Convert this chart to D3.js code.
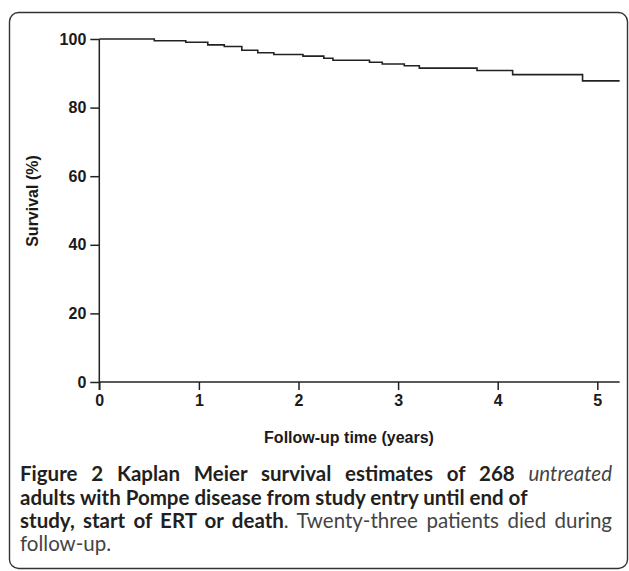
<!DOCTYPE html>
<html><head><meta charset="utf-8">
<script src="https://cdn.jsdelivr.net/npm/d3@7"></script>
<style>body{margin:0;background:#fff}svg{display:block}</style>
</head><body>
<svg id="c" width="629" height="571"></svg>
<script>
// Kaplan-Meier step data (time in years, survival %)
const times = [0, 0.552, 0.868, 1.089, 1.255, 1.431, 1.591, 1.752, 2.045, 2.254, 2.346, 2.713, 2.841, 3.062, 3.213, 3.792, 4.150, 4.852];
const survival = [100, 99.5, 99.07, 98.3, 97.8, 96.7, 96.0, 95.5, 95.0, 94.4, 93.8, 93.2, 92.7, 92.2, 91.5, 90.8, 89.6, 87.8];
const endTime = 5.224;
const xTicks = [0, 1, 2, 3, 4, 5];
const yTicks = [0, 20, 40, 60, 80, 100];
const xTitle = "Follow-up time (years)";
const yTitle = "Survival (%)";

const svg = d3.select("#c");
svg.append("rect").attr("x", 9.5).attr("y", 12.5).attr("width", 618).attr("height", 556)
  .attr("rx", 9).attr("fill", "none").attr("stroke", "#333").attr("stroke-width", 1.4);

const x = d3.scaleLinear().domain([0, 5]).range([99.3, 597.3]);
const y = d3.scaleLinear().domain([0, 100]).range([382, 39]);

const axisFont = "'Liberation Sans', Arial, sans-serif";
const axisSize = "16px";
// y axis
const gy = svg.append("g").attr("transform", `translate(${x(0)},0)`)
  .call(d3.axisLeft(y).tickValues(yTicks).tickFormat(d3.format("d")).tickSize(9).tickPadding(4).tickSizeOuter(0));
gy.select(".domain").remove();
gy.append("line").attr("x1", 0).attr("x2", 0).attr("y1", y(100)).attr("y2", y(0) + 8)
  .attr("stroke", "#222").attr("stroke-width", 1.5);
// x axis
const gx = svg.append("g").attr("transform", `translate(0,${y(0)})`)
  .call(d3.axisBottom(x).tickValues(xTicks).tickFormat(d3.format("d")).tickSize(8).tickPadding(5));
gx.select(".domain").remove();
gx.append("line").attr("x1", x(0)).attr("x2", x(endTime)).attr("y1", 0).attr("y2", 0)
  .attr("stroke", "#222").attr("stroke-width", 1.5);
[gx, gy].forEach(g => {
  g.attr("font-size", null).attr("font-family", null);
  g.selectAll(".tick line").attr("stroke", "#222").attr("stroke-width", 1.5);
  g.selectAll(".tick text").attr("fill", "#1a1a1a").style("font-family", axisFont)
    .style("font-weight", "bold").style("font-size", axisSize);
});

svg.append("text").attr("x", 349).attr("y", 443).attr("text-anchor", "middle")
  .style("font-family", axisFont).style("font-weight", "bold").style("font-size", axisSize)
  .attr("fill", "#1a1a1a").text(xTitle);
svg.append("text").attr("transform", `translate(38,${201}) rotate(-90)`).attr("text-anchor", "middle")
  .style("font-family", axisFont).style("font-weight", "bold").style("font-size", axisSize)
  .attr("fill", "#1a1a1a").text(yTitle);

// step curve
const pts = times.map((t, i) => [t, survival[i]]);
pts.push([endTime, survival[survival.length - 1]]);
const line = d3.line().x(d => x(d[0])).y(d => y(d[1])).curve(d3.curveStepAfter);
svg.append("path").datum(pts).attr("d", line).attr("fill", "none")
  .attr("stroke", "#222").attr("stroke-width", 1.6);

// caption (justified lines 1 and 3)
const capFont = "Lato, 'Open Sans', sans-serif";
const cap = [
  [["Figure 2 Kaplan Meier survival estimates of 268 ", "b"], ["untreated", "i"]],
  [["adults with Pompe disease from study entry until end of", "b"]],
  [["study, start of ERT or death", "b"], [". Twenty-three patients died during", "n"]],
  [["follow-up.", "n"]]
];
const justify = [true, false, true, false];
const baselines = [481, 504.5, 528, 551];
const left = 20, right = 612;
const texts = cap.map((segs, i) => {
  const t = svg.append("text").attr("x", left).attr("y", baselines[i])
    .style("font-family", capFont).style("font-size", "16px");
  segs.forEach(([s, k]) => {
    t.append("tspan").text(s)
      .style("font-weight", k === "b" ? "bold" : "normal")
      .style("font-style", k === "i" ? "italic" : "normal")
      .attr("fill", k === "b" ? "#231f20" : "#444");
  });
  return t;
});
// size so that line 2 (unjustified) matches its width in the figure
const w2 = texts[1].node().getComputedTextLength();
const fs = Math.min(20.5, 16 * 510 / w2);
texts.forEach(t => t.style("font-size", fs + "px"));
texts.forEach((t, i) => {
  if (!justify[i]) return;
  const w = t.node().getComputedTextLength();
  const str = cap[i].map(s => s[0]).join("");
  const spaces = (str.match(/ /g) || []).length;
  t.style("word-spacing", ((right - left - w) / spaces) + "px");
});
</script>
</body></html>
